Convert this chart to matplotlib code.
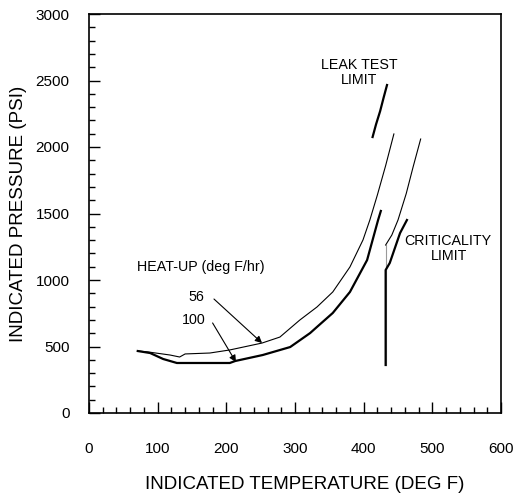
import matplotlib

matplotlib.use("Agg")
import matplotlib.pyplot as plt
from matplotlib.ticker import MultipleLocator

# heat-up limit curves (deg F, psi)
t_56 = [71, 86, 118, 132, 140, 176, 205, 252, 278, 307, 332, 355, 380, 399, 409, 420, 432, 444]
p_56 = [466, 459, 436, 421, 444, 451, 474, 526, 571, 699, 797, 910, 1098, 1301, 1451, 1640, 1860, 2098]

t_100 = [71, 89, 108, 128, 205, 213, 253, 293, 322, 332, 355, 380, 405, 421, 425]
p_100 = [466, 451, 406, 376, 376, 391, 436, 496, 601, 647, 752, 910, 1150, 1451, 1519]

# criticality limits
t_crit56 = [432, 432, 432, 441, 450, 462, 472, 483]
p_crit56 = [361, 1075, 1263, 1338, 1451, 1650, 1850, 2060]
t_crit100 = [432, 432, 438, 448, 453, 463]
p_crit100 = [361, 1075, 1128, 1278, 1353, 1451]

# leak test limit
t_leak = [413, 418, 424, 429, 434]
p_leak = [2075, 2170, 2270, 2370, 2466]

plt.rcParams["font.family"] = ["Liberation Sans", "DejaVu Sans"]

fig = plt.figure(figsize=(5.17, 4.97), dpi=100)
ax = fig.add_axes([89 / 517, 84 / 497, 412 / 517, 399 / 497])

ax.plot(t_56, p_56, color="black", lw=0.8)
ax.plot(t_100, p_100, color="black", lw=1.6)
# the straight part of the thin criticality line prints grey in the scan
ax.plot(t_crit56[:3], p_crit56[:3], color="0.6", lw=0.8)
ax.plot(t_crit56[2:], p_crit56[2:], color="black", lw=0.8)
ax.plot(t_crit100, p_crit100, color="black", lw=1.6)
ax.plot(t_leak, p_leak, color="black", lw=1.6)

ax.set_xlim(0, 600)
ax.set_ylim(0, 3000)
ax.xaxis.set_major_locator(MultipleLocator(100))
ax.xaxis.set_minor_locator(MultipleLocator(20))
ax.yaxis.set_major_locator(MultipleLocator(500))
ax.yaxis.set_minor_locator(MultipleLocator(100))
ax.tick_params(which="both", direction="in", top=False, right=False,
               labelsize=11, width=1.0)
ax.tick_params(which="major", length=8)
ax.tick_params(which="minor", length=4)
ax.tick_params(axis="x", which="major", pad=21)
ax.tick_params(axis="y", which="major", pad=14)
for s in ax.spines.values():
    s.set_linewidth(1.2)

ax.set_xlabel("INDICATED TEMPERATURE (DEG F)", fontsize=13.5)
ax.xaxis.set_label_coords(0.524, -0.158)
ax.set_ylabel("INDICATED PRESSURE (PSI)", fontsize=13.5, labelpad=6)

ax.text(70, 1098, "HEAT-UP (deg F/hr)", fontsize=10.3, ha="left", va="center")
ax.text(157, 872, "56", fontsize=10.3, ha="center", va="center")
ax.text(153, 699, "100", fontsize=10.3, ha="center", va="center")
arrow = dict(arrowstyle="-|>", color="black", lw=0.8, mutation_scale=10,
             shrinkA=0, shrinkB=0)
ax.annotate("", xy=(252, 526), xytext=(182, 857), arrowprops=arrow)
ax.annotate("", xy=(214, 383), xytext=(180, 677), arrowprops=arrow)

ax.text(394, 2617, "LEAK TEST", fontsize=10.3, ha="center", va="center")
ax.text(393, 2504, "LIMIT", fontsize=10.3, ha="center", va="center")
ax.text(523, 1293, "CRITICALITY", fontsize=10.3, ha="center", va="center")
ax.text(525, 1180, "LIMIT", fontsize=10.3, ha="center", va="center")

fig.savefig("out.png", dpi=100)
